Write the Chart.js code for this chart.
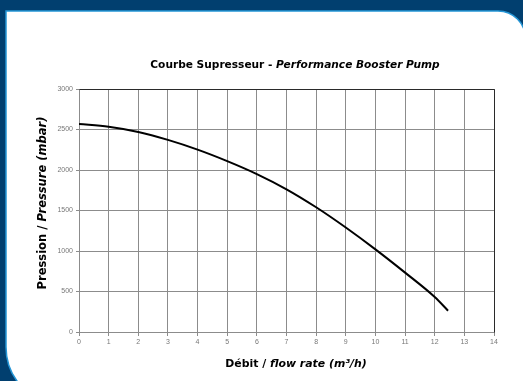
<!DOCTYPE html>
<html>
<head>
<meta charset="utf-8">
<script src="https://cdn.jsdelivr.net/npm/chart.js@4/dist/chart.umd.min.js"></script>
<style>
  html, body { margin: 0; padding: 0; background: #ffffff; overflow: hidden; }
  canvas { display: block; width: 523px; height: 381px; }
</style>
</head>
<body>
<canvas id="pump" width="523" height="381"></canvas>
<script>
// Flow rate (m³/h) and the matching pressure (mbar) of the booster pump
const flowRate = [0, 1, 2, 3, 4, 5, 6, 7, 8, 9, 10, 11, 12, 12.45];
const pressure = [2567, 2535, 2470, 2372, 2252, 2110, 1950, 1762, 1540, 1290, 1020, 733, 432, 263];

// Axis ranges and tick steps
const xRange = [0, 14];
const xStep = 1;
const yRange = [0, 3000];
const yStep = 500;

// Titles: each made of [text, italic?] parts
const chartTitle = [["Courbe Supresseur - ", false], ["Performance Booster Pump", true]];
const xTitle = [["Débit / ", false], ["flow rate (m³/h)", true]];
const yTitle = [["Pression / ", false], ["Pressure (mbar)", true]];

const FONT_FAMILY = '"DejaVu Sans", Verdana, sans-serif';
const W = 523, H = 381;

function fontFor(italic, size) {
  return (italic ? 'italic ' : '') + 'bold ' + size + 'px ' + FONT_FAMILY;
}

// Draw a line of mixed upright / italic text centred on (cx, cy)
function drawMixed(ctx, parts, cx, cy, size, angle) {
  ctx.save();
  ctx.translate(cx, cy);
  ctx.rotate(angle || 0);
  let total = 0;
  const widths = parts.map(([t, it]) => {
    ctx.font = fontFor(it, size);
    const w = ctx.measureText(t).width;
    total += w;
    return w;
  });
  let x = -total / 2;
  ctx.fillStyle = '#000';
  ctx.textBaseline = 'middle';
  ctx.textAlign = 'left';
  parts.forEach(([t, it], i) => {
    ctx.font = fontFor(it, size);
    ctx.fillText(t, x, 0);
    x += widths[i];
  });
  ctx.restore();
}

// Panel geometry: white card with a rounded top-right and bottom-left corner
const PANEL = { left: 6, top: 11, right: 525.5, bottom: 405, rTR: 27.5, rBL: 58 };

const panelPlugin = {
  id: 'panel',
  beforeDraw(chart) {
    const ctx = chart.ctx;
    const p = PANEL;
    ctx.save();
    ctx.fillStyle = '#013f6f';
    ctx.fillRect(0, 0, W, H);
    // white card
    ctx.beginPath();
    ctx.moveTo(p.left, p.top);
    ctx.lineTo(p.right - p.rTR, p.top);
    ctx.arc(p.right - p.rTR, p.top + p.rTR, p.rTR, -Math.PI / 2, 0);
    ctx.lineTo(p.right, p.bottom);
    ctx.lineTo(p.left + p.rBL, p.bottom);
    ctx.arc(p.left + p.rBL, p.bottom - p.rBL, p.rBL, Math.PI / 2, Math.PI);
    ctx.closePath();
    ctx.fillStyle = '#ffffff';
    ctx.fill();
    // everything right of the corner stays white down to the bottom
    ctx.fillRect(p.right - p.rTR, p.top + p.rTR, W - (p.right - p.rTR) + 5, H);
    // light blue rim on the visible edges
    ctx.beginPath();
    ctx.arc(p.left + p.rBL, p.bottom - p.rBL, p.rBL, Math.PI / 2, Math.PI);
    ctx.lineTo(p.left, p.top);
    ctx.lineTo(p.right - p.rTR, p.top);
    ctx.arc(p.right - p.rTR, p.top + p.rTR, p.rTR, -Math.PI / 2, 0);
    ctx.lineWidth = 1.5;
    ctx.strokeStyle = '#2596d6';
    ctx.stroke();
    ctx.restore();
  },
  beforeDatasetsDraw(chart) {
    // darker frame along the top and right of the plot
    const { ctx, chartArea: a } = chart;
    ctx.save();
    ctx.strokeStyle = '#2a2a2a';
    ctx.lineWidth = 1;
    ctx.beginPath();
    ctx.moveTo(Math.round(a.left) + 0.5, Math.round(a.top) + 0.5);
    ctx.lineTo(Math.round(a.right) + 0.5, Math.round(a.top) + 0.5);
    ctx.lineTo(Math.round(a.right) + 0.5, Math.round(a.bottom) + 0.5);
    ctx.stroke();
    ctx.restore();
  },
  afterDraw(chart) {
    const ctx = chart.ctx;
    drawMixed(ctx, chartTitle, 295, 65, 10.6);
    drawMixed(ctx, xTitle, 296, 364, 10.9);
    drawMixed(ctx, yTitle, 43, 203, 11.5, -Math.PI / 2);
  }
};

const tickFont = { family: '"Liberation Sans", Arial, sans-serif', size: 7 };

new Chart(document.getElementById('pump'), {
  type: 'scatter',
  data: {
    datasets: [{
      data: flowRate.map((x, i) => ({ x, y: pressure[i] })),
      showLine: true,
      borderColor: '#000000',
      borderWidth: 2,
      pointRadius: 0,
      fill: false,
      cubicInterpolationMode: 'monotone'
    }]
  },
  options: {
    responsive: false,
    animation: false,
    devicePixelRatio: 1,
    layout: { padding: { left: 0, top: 89, right: 29, bottom: 0 } },
    plugins: {
      legend: { display: false },
      title: { display: false },
      tooltip: { enabled: false }
    },
    scales: {
      x: {
        type: 'linear',
        min: xRange[0],
        max: xRange[1],
        afterFit(scale) { scale.height = 49; },
        ticks: {
          stepSize: xStep,
          color: '#777777',
          padding: 2,
          maxRotation: 0,
          font: tickFont,
          callback: (v) => String(v)
        },
        grid: { color: '#8c8c8c', lineWidth: 1, tickLength: 4 },
        border: { color: '#8c8c8c' }
      },
      y: {
        min: yRange[0],
        max: yRange[1],
        afterFit(scale) { scale.width = 79; },
        ticks: {
          stepSize: yStep,
          color: '#777777',
          padding: 3,
          font: tickFont,
          callback: (v) => String(v)
        },
        grid: { color: '#8c8c8c', lineWidth: 1, tickLength: 3 },
        border: { color: '#8c8c8c' }
      }
    }
  },
  plugins: [panelPlugin]
});
</script>
</body>
</html>
